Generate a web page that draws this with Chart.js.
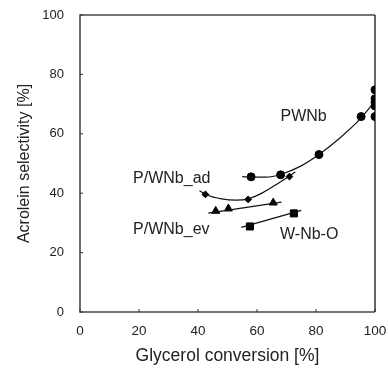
<!DOCTYPE html>
<html>
<head>
<meta charset="utf-8">
<script src="https://cdn.jsdelivr.net/npm/chart.js@4/dist/chart.umd.min.js"></script>
<style>
  html, body { margin: 0; padding: 0; background: #fff; }
  #wrap { width: 388px; height: 371px; }
</style>
</head>
<body>
<div id="wrap"><canvas id="chart"></canvas></div>
<script>
// measured points
const pwnbX = [58, 68, 81, 95.3, 100, 100, 100, 100, 100];
const pwnbY = [45.5, 46.2, 53, 65.8, 74.8, 71.8, 70.6, 69.4, 65.8];
const adX = [42.5, 57, 71];
const adY = [39.6, 37.9, 45.6];
const evX = [46, 50.3, 65.5];
const evY = [34, 34.8, 36.8];
const wnbX = [57.6, 72.5];
const wnbY = [28.8, 33.2];

// trend lines
const pwnbFitX = [55, 58, 63, 68, 75, 81, 88, 95, 100];
const pwnbFitY = [45.6, 45.4, 45.4, 46.3, 49.2, 53, 58.5, 65, 71];
const adFitX = [40.5, 43, 48, 53, 57, 62, 67, 73];
const adFitY = [40.8, 39.4, 38.1, 37.7, 38.1, 40.2, 43.2, 47.1];
const evFitX = [43.5, 68.3];
const evFitY = [33.3, 37];
const wnbFitX = [54.7, 75];
const wnbFitY = [28.5, 34.2];

const xTicks = [0, 20, 40, 60, 80, 100];
const yTicks = [0, 20, 40, 60, 80, 100];

const seriesLabels = [
  { text: "PWNb", x: 75.8, y: 65.7, align: "center" },
  { text: "P/WNb_ad", x: 18, y: 44.8, align: "left" },
  { text: "P/WNb_ev", x: 18, y: 27.6, align: "left" },
  { text: "W-Nb-O", x: 67.8, y: 25.9, align: "left" }
];

const FONT = "'Liberation Sans', Arial, sans-serif";
const pts = (xs, ys) => xs.map((x, i) => ({ x: x, y: ys[i] }));

function fitLine(xs, ys) {
  return {
    data: pts(xs, ys), showLine: true, borderColor: "#111", borderWidth: 1.2,
    pointRadius: 0, tension: 0.4, cubicInterpolationMode: "monotone", fill: false
  };
}
function markers(xs, ys, style, r) {
  return {
    data: pts(xs, ys), showLine: false, pointStyle: style, pointRadius: r,
    backgroundColor: "#000", borderColor: "#000", borderWidth: 1
  };
}

const extras = {
  id: "extras",
  afterDraw(c) {
    const ctx = c.ctx, xs = c.scales.x, ys = c.scales.y, a = c.chartArea;
    ctx.save();
    // frame: grey left/top/bottom, thin black right
    ctx.strokeStyle = "#4a4a4a";
    ctx.lineWidth = 1.6;
    ctx.beginPath();
    ctx.moveTo(a.right, a.top); ctx.lineTo(a.left, a.top);
    ctx.lineTo(a.left, a.bottom); ctx.lineTo(a.right, a.bottom);
    ctx.stroke();
    ctx.strokeStyle = "#000";
    ctx.lineWidth = 1.2;
    ctx.beginPath(); ctx.moveTo(a.right, a.top); ctx.lineTo(a.right, a.bottom); ctx.stroke();
    // inward ticks
    ctx.strokeStyle = "#333";
    ctx.lineWidth = 1;
    xTicks.forEach(v => {
      const px = xs.getPixelForValue(v);
      ctx.beginPath(); ctx.moveTo(px, a.bottom); ctx.lineTo(px, a.bottom - 3); ctx.stroke();
    });
    yTicks.forEach(v => {
      const py = ys.getPixelForValue(v);
      ctx.beginPath(); ctx.moveTo(a.left, py); ctx.lineTo(a.left + 3, py); ctx.stroke();
    });
    // series labels
    ctx.fillStyle = "#222";
    ctx.font = "16px " + FONT;
    ctx.textBaseline = "middle";
    seriesLabels.forEach(l => {
      ctx.textAlign = l.align;
      ctx.fillText(l.text, xs.getPixelForValue(l.x), ys.getPixelForValue(l.y));
    });
    ctx.restore();
  }
};

new Chart(document.getElementById("chart"), {
  type: "scatter",
  data: {
    datasets: [
      fitLine(pwnbFitX, pwnbFitY),
      fitLine(adFitX, adFitY),
      fitLine(evFitX, evFitY),
      fitLine(wnbFitX, wnbFitY),
      markers(pwnbX, pwnbY, "circle", 4),
      markers(adX, adY, "rectRot", 3.4),
      markers(evX, evY, "triangle", 4.6),
      markers(wnbX, wnbY, "rect", 5)
    ]
  },
  options: {
    responsive: true,
    maintainAspectRatio: false,
    animation: false,
    layout: { padding: { top: 15, right: 13, left: 11, bottom: 0 } },
    plugins: { legend: { display: false }, tooltip: { enabled: false } },
    scales: {
      x: {
        min: 0, max: 100,
        afterBuildTicks: s => { s.ticks = xTicks.map(v => ({ value: v })); },
        afterFit: s => { s.height = 59; s.paddingLeft = 0; s.paddingRight = 0; },
        grid: { display: false, drawTicks: false },
        border: { display: false },
        ticks: { color: "#222", padding: 11, maxRotation: 0, font: { family: FONT, size: 13.5 } },
        title: { display: true, text: "Glycerol conversion [%]", color: "#222", padding: { top: 7 }, font: { family: FONT, size: 17.5 } }
      },
      y: {
        min: 0, max: 100,
        afterBuildTicks: s => { s.ticks = yTicks.map(v => ({ value: v })); },
        afterFit: s => { s.width = 69; s.paddingTop = 0; s.paddingBottom = 0; },
        grid: { display: false, drawTicks: false },
        border: { display: false },
        ticks: { color: "#222", padding: 16, font: { family: FONT, size: 13 } },
        title: { display: true, text: "Acrolein selectivity [%]", color: "#222", padding: { bottom: 4 }, font: { family: FONT, size: 16 } }
      }
    }
  },
  plugins: [extras]
});
</script>
</body>
</html>
